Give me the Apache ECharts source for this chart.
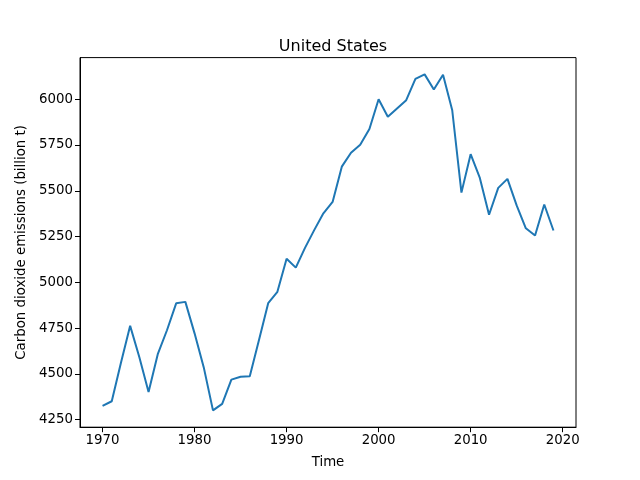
<!DOCTYPE html>
<html>
<head>
<meta charset="utf-8">
<script src="https://cdn.jsdelivr.net/npm/echarts@6/dist/echarts.min.js"></script>
<style>html,body{margin:0;padding:0;background:#fff}#c{width:640px;height:480px}</style>
</head>
<body>
<div id="c"></div>
<script>
const years = [1970,1971,1972,1973,1974,1975,1976,1977,1978,1979,1980,1981,1982,1983,1984,1985,1986,1987,1988,1989,1990,1991,1992,1993,1994,1995,1996,1997,1998,1999,2000,2001,2002,2003,2004,2005,2006,2007,2008,2009,2010,2011,2012,2013,2014,2015,2016,2017,2018,2019];
const emissions = [4325,4350,4560,4762,4590,4400,4607,4738,4885,4893,4721,4535,4300,4336,4468,4484,4487,4685,4886,4948,5129,5080,5188,5285,5377,5439,5632,5708,5752,5838,6000,5905,5950,5995,6111,6136,6053,6134,5940,5490,5700,5570,5369,5516,5565,5420,5295,5256,5425,5283];
const xTicks = [1970,1980,1990,2000,2010,2020];
const yTicks = [4250,4500,4750,5000,5250,5500,5750,6000];

const font = 'DejaVu Sans';
const chart = echarts.init(document.getElementById('c'), null, {renderer:'canvas'});
chart.setOption({
  animation:false,
  backgroundColor:'#fff',
  title:{text:'United States', left:328, top:34, textAlign:'center',
    textStyle:{fontFamily:font, fontSize:16, fontWeight:'normal', color:'#000'}},
  grid:{left:80, right:64, top:57.6, bottom:52.8, show:true, borderColor:'#000', borderWidth:1, containLabel:false},
  xAxis:{type:'value', min:1967.55, max:2021.45,
    name:'Time', nameLocation:'middle', nameGap:29,
    nameTextStyle:{fontFamily:font, fontSize:13.33, color:'#000'},
    axisLine:{show:true, lineStyle:{color:'#000', width:1}},
    axisTick:{show:true, length:5, customValues:xTicks, lineStyle:{color:'#000'}},
    axisLabel:{customValues:xTicks, formatter:v=>String(v), fontFamily:font, fontSize:13.33, color:'#000', margin:7},
    splitLine:{show:false}},
  yAxis:{type:'value', min:4208.25, max:6227.75,
    name:'Carbon dioxide emissions (billion t)', nameLocation:'middle', nameGap:48,
    nameTextStyle:{fontFamily:font, fontSize:13.33, color:'#000'},
    axisLine:{show:true, lineStyle:{color:'#000', width:1}},
    axisTick:{show:true, length:5, customValues:yTicks, lineStyle:{color:'#000'}},
    axisLabel:{customValues:yTicks, formatter:v=>String(v), fontFamily:font, fontSize:13.33, color:'#000', margin:7},
    splitLine:{show:false}},
  series:[{type:'line', data:years.map((y,i)=>[y, emissions[i]]), showSymbol:false,
    lineStyle:{color:'#1f77b4', width:2}, itemStyle:{color:'#1f77b4'}}]
});
</script>
</body>
</html>
